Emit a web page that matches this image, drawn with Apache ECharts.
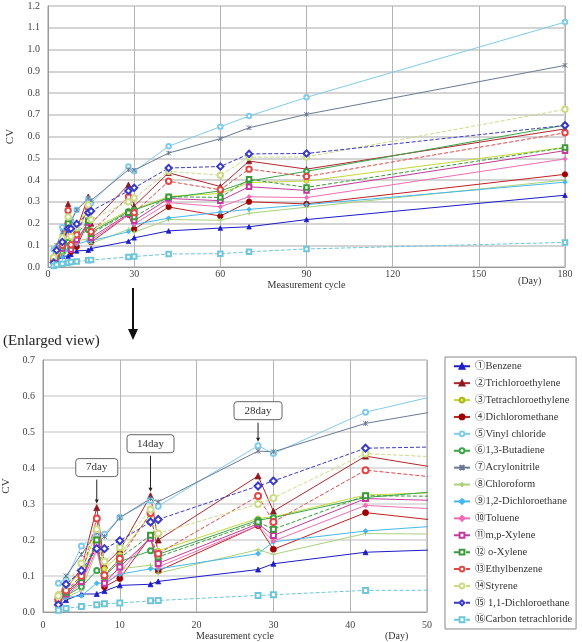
<!DOCTYPE html>
<html>
<head>
<meta charset="utf-8">
<script src="https://cdn.jsdelivr.net/npm/echarts@6/dist/echarts.min.js"></script>
<style>
  html, body { margin: 0; padding: 0; background: #fff; }
  #main { width: 582px; height: 642px; }
</style>
</head>
<body>
<div id="main"></div>
<script>
// 測定日 (day)
var days = [2, 3, 5, 7, 8, 10, 14, 15, 28, 30, 42, 60, 70, 90, 180];

// CV values per compound
var benzene       = [0.015, 0.033, 0.05, 0.05, 0.058, 0.074, 0.077, 0.085, 0.118, 0.134, 0.166, 0.179, 0.185, 0.218, 0.33];
var trichloroeth  = [0.04, 0.065, 0.12, 0.29, 0.13, 0.172, 0.323, 0.2, 0.378, 0.28, 0.433, 0.37, 0.487, 0.45, 0.635];
var tetrachloroeth= [0.05, 0.07, 0.11, 0.225, 0.12, 0.16, 0.27, 0.17, 0.26, 0.264, 0.325, 0.338, 0.388, 0.395, 0.55];
var dichlorometh  = [0.03, 0.055, 0.09, 0.195, 0.07, 0.093, 0.21, 0.114, 0.24, 0.174, 0.276, 0.234, 0.3, 0.29, 0.426];
var vinylChloride = [0.08, 0.09, 0.183, 0.215, 0.216, 0.263, 0.31, 0.294, 0.462, 0.44, 0.555, 0.645, 0.694, 0.78, 1.126];
var butadiene     = [0.03, 0.045, 0.07, 0.115, 0.1, 0.14, 0.17, 0.16, 0.255, 0.262, 0.318, 0.35, 0.395, 0.44, 0.652];
var acrylonitrile = [0.03, 0.1, 0.16, 0.22, 0.21, 0.262, 0.315, 0.306, 0.447, 0.445, 0.524, 0.59, 0.64, 0.702, 0.927];
var chloroform    = [0.04, 0.04, 0.06, 0.17, 0.09, 0.12, 0.13, 0.108, 0.173, 0.16, 0.218, 0.215, 0.247, 0.275, 0.40];
var dce12         = [0.025, 0.04, 0.045, 0.08, 0.08, 0.105, 0.12, 0.12, 0.162, 0.195, 0.225, 0.252, 0.265, 0.287, 0.39];
var toluene       = [0.025, 0.045, 0.08, 0.175, 0.075, 0.11, 0.21, 0.125, 0.24, 0.197, 0.296, 0.277, 0.323, 0.319, 0.497];
var mpXylene      = [0.03, 0.05, 0.085, 0.19, 0.08, 0.125, 0.205, 0.135, 0.245, 0.2125, 0.315, 0.305, 0.369, 0.352, 0.535];
var oXylene       = [0.035, 0.055, 0.095, 0.2, 0.1, 0.15, 0.213, 0.153, 0.25, 0.23, 0.323, 0.32, 0.403, 0.366, 0.549];
var ethylbenzene  = [0.035, 0.06, 0.1, 0.26, 0.102, 0.148, 0.275, 0.162, 0.322, 0.25, 0.394, 0.355, 0.45, 0.416, 0.617];
var styrene       = [0.045, 0.075, 0.135, 0.23, 0.14, 0.18, 0.285, 0.218, 0.30, 0.317, 0.44, 0.422, 0.505, 0.506, 0.725];
var dce11         = [0.02, 0.077, 0.115, 0.176, 0.176, 0.198, 0.25, 0.257, 0.35, 0.364, 0.455, 0.462, 0.52, 0.522, 0.651];
var carbonTet     = [0.005, 0.01, 0.015, 0.02, 0.023, 0.025, 0.031, 0.032, 0.046, 0.048, 0.06, 0.061, 0.07, 0.083, 0.113];

var names = ['①Benzene', '②Trichloroethylene', '③Tetrachloroethylene', '④Dichloromethane',
  '⑤Vinyl chloride', '⑥1,3-Butadiene', '⑦Acrylonitrile', '⑧Chloroform',
  '⑨1,2-Dichloroethane', '⑩Toluene', '⑪m,p-Xylene', '⑫ o-Xylene',
  '⑬Ethylbenzene', '⑭Styrene', '⑮ 1,1-Dichloroethane', '⑯Carbon tetrachloride'];
var values = [benzene, trichloroeth, tetrachloroeth, dichlorometh, vinylChloride, butadiene,
  acrylonitrile, chloroform, dce12, toluene, mpXylene, oXylene, ethylbenzene, styrene, dce11, carbonTet];

// 吹き出し
var annDays = [7, 14, 28];
var annValues = [0.29, 0.323, 0.462];
var annLabels = ['7day', '14day', '28day'];

var crossPath = 'path://M0,0L10,10M10,0L0,10M5,0L5,10';
var plusPath = 'path://M0,5L10,5M5,0L5,10';

// 線の色・線種・マーカー
var styles = [
  { color: '#1c1cc8', type: 'solid',  symbol: 'triangle',     size: 5, fill: '#1c1cc8' },
  { color: '#b3262e', type: 'solid',  symbol: 'triangle',     size: 6, fill: '#8c1a22' },
  { color: '#c2d93a', type: 'solid',  symbol: 'circle',       size: 5, fill: '#e6e650', border: '#a8b820' },
  { color: '#c02020', type: 'solid',  symbol: 'circle',       size: 6, fill: '#a00000' },
  { color: '#80cbea', type: 'solid',  symbol: 'emptyCircle',  size: 5 },
  { color: '#3aa548', type: 'solid',  symbol: 'emptyCircle',  size: 5 },
  { color: '#6a7a94', type: 'solid',  symbol: crossPath,      size: 5, stroke: true },
  { color: '#a9d27a', type: 'solid',  symbol: plusPath,       size: 5, stroke: true },
  { color: '#48b8ea', type: 'solid',  symbol: 'diamond',      size: 5, fill: '#48b8ea' },
  { color: '#f06cb4', type: 'solid',  symbol: 'diamond',      size: 5, fill: '#f06cb4' },
  { color: '#c43a9c', type: 'solid',  symbol: 'emptyRect',    size: 5 },
  { color: '#3a9a3a', type: 'dashed', symbol: 'emptyRect',    size: 5 },
  { color: '#e04848', type: 'dashed', symbol: 'emptyCircle',  size: 6 },
  { color: '#ccdb86', type: 'dashed', symbol: 'emptyCircle',  size: 6 },
  { color: '#3a3ac8', type: 'dashed', symbol: 'emptyDiamond', size: 7 },
  { color: '#6ec6d8', type: 'dashed', symbol: 'emptyRect',    size: 5 }
];

var serif = '"Liberation Serif", "DejaVu Serif", "Noto Sans CJK JP", serif';
var chart = echarts.init(document.getElementById('main'));

var series = [];
[0, 1].forEach(function (g) {
  names.forEach(function (name, i) {
    var s = styles[i];
    var item;
    if (s.stroke) {
      item = { color: 'none', borderColor: s.color, borderWidth: 1 };
    } else if (s.fill) {
      item = { color: s.fill, borderColor: s.border || s.fill, borderWidth: 0.8 };
    } else {
      item = { color: s.color, borderWidth: 1 };
    }
    series.push({
      name: name,
      type: 'line',
      xAxisIndex: g,
      yAxisIndex: g,
      symbol: s.symbol,
      symbolSize: g === 0 ? s.size * 0.9 : s.size,
      showAllSymbol: true,
      animation: false,
      lineStyle: { color: s.color, width: 1, type: s.type },
      itemStyle: item,
      emphasis: { disabled: true },
      data: days.map(function (d, k) { return [d, values[i][k]]; })
    });
  });
});

function yAxis(idx, max, gap) {
  return {
    gridIndex: idx, type: 'value', min: 0, max: max, interval: 0.1,
    name: 'CV', nameLocation: 'middle', nameRotate: 90, nameGap: gap,
    nameTextStyle: { fontFamily: serif, fontSize: 11, color: '#333' },
    axisLine: { show: true, lineStyle: { color: '#999' } },
    axisTick: { show: false },
    axisLabel: { fontFamily: serif, fontSize: 10, color: '#444', margin: 8,
      formatter: function (v) { return v.toFixed(1); } },
    splitLine: { lineStyle: { color: '#d4d4d4', width: idx === 0 ? 2 : 1.5 } }
  };
}
function xAxis(idx, max, interval, margin, gap) {
  return {
    gridIndex: idx, type: 'value', min: 0, max: max, interval: interval,
    name: 'Measurement cycle', nameLocation: 'middle', nameGap: gap,
    nameTextStyle: { fontFamily: serif, fontSize: 10, color: '#333' },
    axisLine: { show: true, lineStyle: { color: '#999' } },
    axisTick: { show: false },
    axisLabel: { fontFamily: serif, fontSize: 10, color: '#444', margin: margin },
    splitLine: { lineStyle: { color: '#b4b4b4', width: 1 } }
  };
}

chart.setOption({
  backgroundColor: '#fff',
  animation: false,
  grid: [
    { left: 48, top: 6, right: 17, bottom: 375, show: true, borderColor: '#999', borderWidth: 1,
      containLabel: false, outerBoundsMode: 'none' },
    { left: 43, top: 360, right: 155, bottom: 30, show: true, borderColor: '#999', borderWidth: 1,
      containLabel: false, outerBoundsMode: 'none' }
  ],
  xAxis: [xAxis(0, 180, 30, 2, 11), xAxis(1, 50, 10, 8, 19)],
  yAxis: [yAxis(0, 1.2, 32), yAxis(1, 0.7, 29)],
  legend: {
    data: names,
    orient: 'vertical',
    left: 445, top: 357,
    padding: [4, 4, 4, 8],
    itemGap: 6.4,
    itemWidth: 16, itemHeight: 6,
    borderColor: '#888', borderWidth: 1,
    selectedMode: false,
    textStyle: { fontFamily: serif, fontSize: 10.5, color: '#333' }
  },
  series: series
});

var graphics = [
  { type: 'text', left: 3, top: 334, style: { text: '(Enlarged view)', font: '15px ' + serif, fill: '#222' } },
  { type: 'line', shape: { x1: 133, y1: 288, x2: 133, y2: 331 }, style: { stroke: '#111', lineWidth: 2 } },
  { type: 'polygon', shape: { points: [[128, 329], [138, 329], [133, 340]] }, style: { fill: '#111' } },
  { type: 'text', x: 518, y: 276, style: { text: '(Day)', font: '10px ' + serif, fill: '#333' } },
  { type: 'text', x: 385, y: 631, style: { text: '(Day)', font: '10px ' + serif, fill: '#333' } }
];

// 吹き出しの位置（データ点から上へ）
var annLift = [40, 52, 35];
var annWidth = [42, 47, 48];
annDays.forEach(function (d, i) {
  var p = chart.convertToPixel({ gridIndex: 1 }, [d, annValues[i]]);
  var cx = p[0], by = p[1] - annLift[i] + 9;
  graphics.push({
    type: 'rect',
    shape: { x: cx - annWidth[i] / 2, y: by - 18, width: annWidth[i], height: 18, r: 3 },
    style: { fill: '#fff', stroke: '#666', lineWidth: 1 }
  });
  graphics.push({
    type: 'text', x: cx, y: by - 9,
    style: { text: annLabels[i], font: '11px ' + serif, fill: '#333', textAlign: 'center', textVerticalAlign: 'middle' }
  });
  graphics.push({ type: 'line', shape: { x1: cx, y1: by + 3, x2: cx, y2: p[1] - 6 }, style: { stroke: '#222', lineWidth: 1 } });
  graphics.push({ type: 'polygon', shape: { points: [[cx - 2, p[1] - 8], [cx + 2, p[1] - 8], [cx, p[1] - 4]] }, style: { fill: '#222' } });
});

chart.setOption({ graphic: graphics });
</script>
</body>
</html>
